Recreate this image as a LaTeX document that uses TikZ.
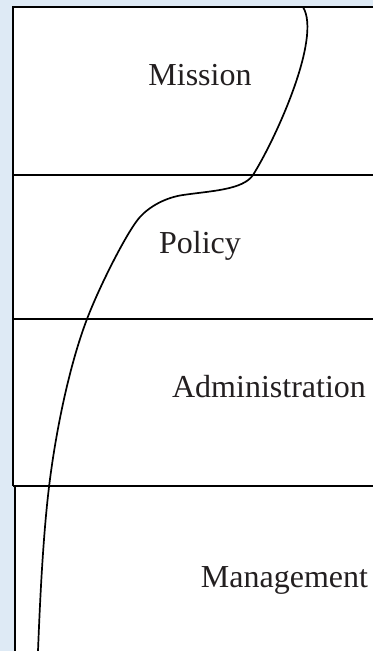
\documentclass[tikz,border=0pt]{standalone}
\usepackage{fontspec}
\setmainfont{Liberation Serif}
\definecolor{bgblue}{RGB}{222,234,245}
\definecolor{txtgray}{RGB}{35,31,32}
\begin{document}
\begin{tikzpicture}[x=1pt,y=-1pt,
  band/.style={line width=2.2pt},
  lbl/.style={anchor=base,inner sep=0pt,text=txtgray,font=\fontsize{32}{38}\selectfont},
  wave/.style={line width=1.7pt}]
\useasboundingbox (0,0) rectangle (373,651);
\fill[bgblue] (0,0) rectangle (373,651);
\fill[white] (13,7) rectangle (373,486);
\fill[white] (15,486) rectangle (373,651);
% band outlines
\draw[band] (373,7) -- (13,7) -- (13,486);
\draw[band] (13,175) -- (373,175);
\draw[band] (13,319) -- (373,319);
\draw[band] (13,486) -- (373,486);
\draw[band] (15,486) -- (15,651);
% labels
\node[lbl] (mission) at (200,85) {Mission};
\node[lbl] (policy) at (200,253) {Policy};
\node[lbl] (admin) at (269,397) {Administration};
\node[lbl] (mgmt) at (284.5,587) {Management};
% curve
\coordinate (c0) at (303,7);
\coordinate (c1) at (253,175);
\coordinate (c2) at (183,195);
\coordinate (c3) at (140,217);
\coordinate (c4) at (87,319);
\coordinate (c5) at (49,487);
\coordinate (c6) at (38,651);
\draw[wave] (c0) .. controls (322,38) and (275,140) .. (c1)
  .. controls (243,190) and (210,191) .. (c2)
  .. controls (166,197.5) and (150,206) .. (c3)
  .. controls (128,230) and (100,285) .. (c4)
  .. controls (68,369) and (55,437) .. (c5)
  .. controls (43,537) and (40,600) .. (c6);
\end{tikzpicture}
\end{document}
